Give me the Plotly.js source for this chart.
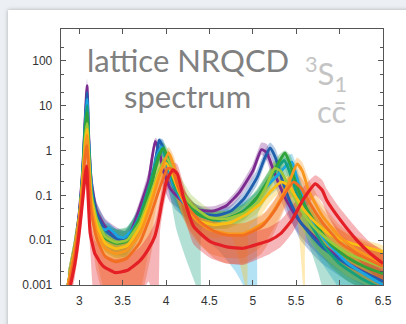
<!DOCTYPE html>
<html>
<head>
<meta charset="utf-8">
<script src="https://cdn.plot.ly/plotly-3.0.1.min.js"></script>
<style>
html,body{margin:0;padding:0;width:406px;height:324px;overflow:hidden;background:#eceff3;}
#card{position:absolute;left:8px;top:10px;width:420px;height:330px;background:#fff;box-shadow:0 0 4px rgba(0,0,0,0.28);}
#plot{position:absolute;left:0;top:0;width:406px;height:324px;}
</style>
</head>
<body>
<div id="card"></div>
<div id="plot"></div>
<script>
// ---- data ----
const xTicks = [3, 3.5, 4, 4.5, 5, 5.5, 6, 6.5];
const xTickText = ["3", "3.5", "4", "4.5", "5", "5.5", "6", "6.5"];
const yTicks = [0.001, 0.01, 0.1, 1, 10, 100];
const yTickText = ["0.001", "0.01", "0.1", "1", "10", "100"];

const xPurple = [2.88,2.95,3.0,3.04,3.07,3.09,3.11,3.14,3.2,3.3,3.42,3.53,3.62,3.7,3.8,3.875,3.92,3.97,4.05,4.2,4.4,4.55,4.7,4.85,5.0,5.1,5.16,5.22,5.3,5.4,5.55,5.8,6.1,6.5];
const yPurple = [0.001,0.006,0.04,0.4,6,28,2,0.2,0.045,0.02,0.013,0.01,0.02,0.056,0.22,1.6,1.0,0.35,0.14,0.07,0.046,0.045,0.06,0.12,0.35,1.05,0.9,0.45,0.18,0.07,0.025,0.008,0.003,0.0012];
const loPurple = [0.0005,0.003,0.02,0.2,3,15,1,0.1,0.025,0.01,0.007,0.005,0.01,0.03,0.12,1.2,0.6,0.15,0.07,0.045,0.035,0.035,0.045,0.09,0.25,0.8,0.6,0.25,0.1,0.035,0.012,0.004,0.0015,0.0006];
const hiPurple = [0.002,0.012,0.08,0.8,12,40,4,0.4,0.07,0.03,0.02,0.016,0.03,0.08,0.35,1.9,1.6,0.6,0.2,0.09,0.058,0.057,0.075,0.16,0.5,1.5,1.4,0.7,0.28,0.11,0.04,0.013,0.005,0.002];

const xBlue = [2.88,2.95,3.0,3.04,3.07,3.09,3.11,3.14,3.2,3.3,3.42,3.53,3.65,3.75,3.85,3.92,3.97,4.03,4.1,4.25,4.45,4.6,4.75,4.9,5.05,5.14,5.2,5.26,5.33,5.42,5.55,5.8,6.1,6.5];
const yBlue = [0.001,0.006,0.035,0.35,5,20,1.6,0.17,0.04,0.017,0.011,0.01,0.018,0.05,0.25,1.7,1.1,0.35,0.14,0.06,0.038,0.036,0.045,0.085,0.25,0.7,1.15,0.7,0.25,0.08,0.025,0.007,0.0028,0.0012];
const loBlue = [0.0005,0.003,0.018,0.18,2.5,12,0.8,0.08,0.02,0.008,0.005,0.004,0.008,0.025,0.12,1.2,0.6,0.12,0.05,0.03,0.025,0.025,0.032,0.06,0.17,0.5,0.8,0.4,0.12,0.035,0.01,0.003,0.0012,0.0005];
const hiBlue = [0.002,0.012,0.07,0.7,10,30,3,0.35,0.07,0.028,0.018,0.016,0.03,0.08,0.4,1.9,1.7,0.6,0.22,0.085,0.05,0.048,0.06,0.12,0.38,1.0,1.5,1.1,0.45,0.15,0.05,0.013,0.005,0.002];

const xCyan = [2.87,2.93,3.0,3.04,3.07,3.09,3.11,3.14,3.17,3.24,3.3,3.34,3.38,3.45,3.52,3.62,3.72,3.82,3.9,3.95,4.0,4.08,4.2,4.4,4.6,4.8,4.95,5.04,5.06,5.15,5.3,5.38,5.45,5.52,5.6,5.8,6.1,6.5];
const yCyan = [0.001,0.004,0.03,0.3,4,14,1.5,0.15,0.04,0.019,0.017,0.0185,0.016,0.012,0.0115,0.018,0.045,0.18,0.8,1.2,0.6,0.18,0.07,0.035,0.028,0.035,0.055,0.08,0.085,0.15,0.3,0.45,0.55,0.2,0.06,0.012,0.003,0.001];
const loCyan = [0.0005,0.002,0.015,0.15,2,8,0.8,0.08,0.025,0.014,0.013,0.014,0.012,0.009,0.008,0.01,0.025,0.1,0.5,0.8,0.3,0.08,0.03,0.012,0.006,0.002,0.0006,0.0003,0.04,0.08,0.15,0.25,0.3,0.08,0.02,0.003,0.0005,0.0003];
const hiCyan = [0.002,0.008,0.06,0.6,8,22,3,0.3,0.06,0.025,0.022,0.024,0.021,0.016,0.016,0.03,0.07,0.3,1.2,1.8,1.0,0.3,0.11,0.05,0.045,0.055,0.085,0.12,0.13,0.25,0.5,0.7,0.85,0.35,0.12,0.025,0.006,0.002];

const xTeal = [2.87,2.94,3.0,3.04,3.07,3.09,3.11,3.14,3.2,3.3,3.42,3.55,3.7,3.82,3.9,3.96,4.02,4.12,4.25,4.35,4.4,4.42,4.55,4.7,4.9,5.05,5.2,5.3,5.36,5.42,5.5,5.6,5.75,5.86,6.0,6.25,6.5];
const yTeal = [0.001,0.005,0.03,0.3,4,10,1.2,0.12,0.03,0.012,0.009,0.01,0.035,0.2,0.7,1.1,0.5,0.13,0.06,0.04,0.035,0.034,0.028,0.03,0.045,0.09,0.25,0.45,0.6,0.35,0.12,0.04,0.012,0.006,0.003,0.0014,0.0008];
const loTeal = [0.0005,0.0025,0.015,0.15,2,5,0.6,0.06,0.015,0.006,0.0045,0.005,0.018,0.1,0.4,0.7,0.2,0.017,0.003,0.0009,0.0004,0.02,0.018,0.02,0.03,0.06,0.16,0.3,0.4,0.2,0.06,0.015,0.002,0.0004,0.0003,0.0003,0.0003];
const hiTeal = [0.002,0.01,0.06,0.6,8,16,2.4,0.24,0.06,0.024,0.018,0.02,0.06,0.35,1.1,1.5,0.9,0.25,0.1,0.06,0.05,0.05,0.04,0.045,0.065,0.13,0.38,0.65,0.9,0.6,0.22,0.08,0.025,0.012,0.006,0.003,0.0016];

const xGreen = [2.87,2.94,3.0,3.04,3.07,3.09,3.11,3.14,3.2,3.3,3.42,3.55,3.7,3.82,3.92,3.97,4.03,4.1,4.2,4.35,4.5,4.7,4.9,5.05,5.2,5.3,5.37,5.43,5.5,5.6,5.75,5.9,6.1,6.3,6.5];
const yGreen = [0.001,0.005,0.03,0.28,3,7,1,0.1,0.025,0.011,0.0085,0.0095,0.03,0.15,0.75,1.15,0.6,0.2,0.08,0.04,0.03,0.03,0.045,0.09,0.25,0.55,0.88,0.5,0.18,0.06,0.02,0.008,0.004,0.0025,0.0018];
const loGreen = [0.0005,0.0025,0.015,0.14,1.5,4,0.5,0.05,0.012,0.0055,0.004,0.0045,0.015,0.08,0.45,0.8,0.3,0.08,0.035,0.022,0.018,0.018,0.028,0.055,0.15,0.35,0.6,0.25,0.07,0.02,0.006,0.0025,0.0012,0.0008,0.0006];
const hiGreen = [0.002,0.01,0.06,0.55,6,10,2,0.2,0.05,0.022,0.017,0.019,0.05,0.26,1.1,1.5,1.0,0.35,0.13,0.06,0.045,0.045,0.068,0.14,0.4,0.8,1.0,0.8,0.35,0.12,0.04,0.016,0.008,0.005,0.0035];

const xLime = [2.87,2.94,3.0,3.04,3.07,3.09,3.11,3.14,3.2,3.3,3.42,3.55,3.7,3.82,3.92,4.0,4.06,4.15,4.3,4.5,4.7,4.9,5.05,5.15,5.25,5.32,5.42,5.55,5.7,5.9,6.1,6.3,6.5];
const yLime = [0.001,0.005,0.03,0.25,2,4,0.8,0.1,0.03,0.012,0.009,0.01,0.025,0.1,0.35,0.7,0.45,0.15,0.06,0.032,0.03,0.04,0.07,0.15,0.4,0.35,0.15,0.05,0.02,0.009,0.005,0.0035,0.0025];
const loLime = [0.0005,0.0025,0.015,0.12,1,2.5,0.4,0.05,0.012,0.0055,0.004,0.0045,0.012,0.05,0.2,0.45,0.25,0.07,0.03,0.02,0.018,0.025,0.04,0.08,0.2,0.15,0.06,0.02,0.007,0.003,0.0015,0.001,0.0007];
const hiLime = [0.002,0.01,0.06,0.5,4,7,1.6,0.2,0.06,0.013,0.0105,0.011,0.04,0.18,0.6,1.0,0.8,0.3,0.1,0.05,0.045,0.06,0.11,0.25,0.6,0.6,0.3,0.1,0.04,0.018,0.01,0.007,0.005];

const xYellow = [2.87,2.94,3.0,3.04,3.07,3.09,3.11,3.14,3.2,3.3,3.42,3.55,3.7,3.82,3.92,4.0,4.07,4.15,4.25,4.36,4.55,4.75,4.93,4.96,5.09,5.2,5.33,5.42,5.5,5.58,5.6,5.62,5.75,5.9,6.1,6.3,6.5];
const yYellow = [0.001,0.005,0.03,0.22,1.5,3,0.6,0.08,0.022,0.0085,0.0065,0.0075,0.02,0.08,0.3,0.53,0.3,0.12,0.05,0.028,0.022,0.025,0.038,0.042,0.066,0.12,0.2,0.16,0.09,0.05,0.045,0.04,0.022,0.013,0.009,0.007,0.0055];
const loYellow = [0.0005,0.0025,0.015,0.11,0.8,1.8,0.3,0.04,0.011,0.004,0.003,0.0035,0.01,0.04,0.15,0.3,0.15,0.06,0.025,0.014,0.011,0.012,0.0008,0.02,0.035,0.07,0.12,0.09,0.045,0.001,0.0004,0.02,0.01,0.006,0.004,0.003,0.0025];
const hiYellow = [0.002,0.01,0.06,0.45,3,5,1.2,0.16,0.044,0.014,0.011,0.012,0.035,0.14,0.5,0.8,0.5,0.2,0.08,0.042,0.035,0.038,0.055,0.06,0.1,0.18,0.3,0.25,0.15,0.08,0.075,0.07,0.038,0.022,0.014,0.01,0.0075];

const xOrange = [2.87,2.94,3.0,3.04,3.07,3.09,3.11,3.14,3.2,3.3,3.42,3.55,3.7,3.82,3.93,4.03,4.09,4.16,4.25,4.38,4.51,4.7,4.89,5.05,5.16,5.3,5.42,5.51,5.57,5.65,5.8,6.0,6.2,6.5];
const yOrange = [0.001,0.005,0.03,0.2,1.2,2.2,0.45,0.06,0.016,0.0065,0.005,0.006,0.014,0.06,0.3,0.9,0.45,0.12,0.05,0.025,0.017,0.014,0.014,0.02,0.028,0.07,0.2,0.5,0.35,0.12,0.035,0.012,0.006,0.003];
const loOrange = [0.0005,0.0025,0.015,0.1,0.6,1.2,0.2,0.025,0.004,0.0007,0.0005,0.0005,0.0008,0.01,0.15,0.55,0.2,0.05,0.018,0.008,0.005,0.004,0.004,0.006,0.01,0.03,0.1,0.3,0.18,0.05,0.012,0.004,0.002,0.0012];
const hiOrange = [0.002,0.01,0.06,0.4,2.4,3.5,0.9,0.12,0.03,0.011,0.0085,0.01,0.025,0.1,0.5,1.2,0.75,0.22,0.085,0.04,0.028,0.023,0.024,0.033,0.045,0.11,0.3,0.7,0.55,0.22,0.065,0.022,0.011,0.006];

const xDarkOrange = [2.88,2.95,3.0,3.04,3.07,3.09,3.11,3.14,3.2,3.3,3.42,3.55,3.7,3.82,3.93,4.02,4.07,4.14,4.25,4.4,4.55,4.7,4.9,5.1,5.25,5.37,5.47,5.55,5.65,5.8,6.0,6.2,6.5];
const yDarkOrange = [0.001,0.005,0.025,0.15,0.8,1.3,0.3,0.04,0.011,0.0043,0.0033,0.004,0.009,0.035,0.15,0.4,0.38,0.15,0.055,0.025,0.016,0.013,0.013,0.02,0.045,0.11,0.2,0.15,0.07,0.025,0.009,0.005,0.0026];
const loDarkOrange = [0.0005,0.0025,0.012,0.07,0.4,0.7,0.12,0.015,0.002,0.0005,0.0004,0.0004,0.0005,0.004,0.05,0.2,0.2,0.06,0.02,0.008,0.004,0.003,0.003,0.005,0.015,0.05,0.1,0.07,0.03,0.01,0.003,0.0015,0.0008];
const hiDarkOrange = [0.002,0.01,0.05,0.3,1.6,2.2,0.6,0.08,0.022,0.0085,0.0065,0.0075,0.017,0.06,0.25,0.6,0.6,0.26,0.1,0.045,0.028,0.023,0.024,0.035,0.08,0.2,0.32,0.26,0.13,0.05,0.018,0.01,0.005];

const xRed = [2.9,2.95,3.0,3.04,3.07,3.085,3.1,3.127,3.18,3.2,3.24,3.28,3.41,3.55,3.7,3.8,3.87,3.9,3.93,3.95,4.01,4.08,4.13,4.2,4.32,4.51,4.7,4.89,5.09,5.2,5.32,5.45,5.58,5.72,5.8,5.85,6.01,6.2,6.35,6.5];
const yRed = [0.001,0.003,0.015,0.08,0.3,0.45,0.12,0.014,0.005,0.0043,0.0032,0.0026,0.0019,0.0021,0.0035,0.0065,0.012,0.02,0.04,0.066,0.22,0.37,0.3,0.093,0.02,0.0093,0.0071,0.0066,0.0085,0.01,0.014,0.028,0.08,0.18,0.13,0.079,0.028,0.0099,0.0051,0.003];
const loRed = [0.0005,0.0015,0.007,0.04,0.15,0.25,0.05,0.006,0.0003,0.0003,0.0003,0.0006,0.0005,0.0005,0.0006,0.0012,0.0003,0.0003,0.015,0.03,0.12,0.22,0.15,0.04,0.008,0.004,0.003,0.0028,0.004,0.005,0.007,0.014,0.04,0.1,0.07,0.04,0.012,0.004,0.002,0.0012];
const hiRed = [0.002,0.006,0.03,0.16,0.6,0.8,0.25,0.03,0.01,0.009,0.0065,0.005,0.0038,0.0042,0.007,0.013,0.024,0.04,0.08,0.13,0.4,0.55,0.5,0.18,0.04,0.018,0.014,0.013,0.017,0.02,0.028,0.055,0.15,0.28,0.22,0.14,0.05,0.018,0.009,0.0055];

const series = [
  {x: xPurple, y: yPurple, lo: loPurple, hi: hiPurple, color: '#7b2a8f', rgb: '123,42,143'},
  {x: xBlue, y: yBlue, lo: loBlue, hi: hiBlue, color: '#1f5fad', rgb: '31,95,173'},
  {x: xCyan, y: yCyan, lo: loCyan, hi: hiCyan, color: '#1aa6e0', rgb: '26,166,224'},
  {x: xTeal, y: yTeal, lo: loTeal, hi: hiTeal, color: '#14a07c', rgb: '20,160,124'},
  {x: xGreen, y: yGreen, lo: loGreen, hi: hiGreen, color: '#2fa33a', rgb: '47,163,58'},
  {x: xLime, y: yLime, lo: loLime, hi: hiLime, color: '#9cc83c', rgb: '156,200,60'},
  {x: xYellow, y: yYellow, lo: loYellow, hi: hiYellow, color: '#fbbf14', rgb: '251,191,20'},
  {x: xOrange, y: yOrange, lo: loOrange, hi: hiOrange, color: '#f9961d', rgb: '249,150,29'},
  {x: xDarkOrange, y: yDarkOrange, lo: loDarkOrange, hi: hiDarkOrange, color: '#f26f22', rgb: '242,111,34'},
  {x: xRed, y: yRed, lo: loRed, hi: hiRed, color: '#e51f26', rgb: '229,31,38'}
];

const traces = [];
series.forEach(s => {
  traces.push({
    type: 'scatter', mode: 'lines',
    x: s.x.concat(s.x.slice().reverse()),
    y: s.hi.concat(s.lo.slice().reverse()),
    fill: 'toself', fillcolor: 'rgba(' + s.rgb + ',0.33)',
    line: {width: 0, color: 'rgba(0,0,0,0)', shape: 'spline', smoothing: 0.5},
    hoverinfo: 'skip'
  });
});
series.forEach((s, i) => {
  traces.push({
    type: 'scatter', mode: 'lines', x: s.x, y: s.y,
    line: {color: s.color, width: i === series.length - 1 ? 3.2 : 2.8, shape: 'spline', smoothing: 0.5}
  });
});

const tickFont = {family: 'Liberation Sans, Arial, sans-serif', size: 12, color: '#333'};
const layout = {
  width: 406, height: 324,
  margin: {l: 61, r: 23, t: 29, b: 39},
  paper_bgcolor: 'rgba(0,0,0,0)', plot_bgcolor: '#ffffff',
  showlegend: false,
  xaxis: {
    range: [2.79, 6.5], tickvals: xTicks, ticktext: xTickText,
    ticks: 'inside', ticklen: 5, tickcolor: '#555', tickwidth: 1,
    showline: true, linecolor: '#555', linewidth: 1.3, mirror: 'ticks',
    showgrid: false, zeroline: false, tickfont: tickFont, ticklabelstandoff: 4
  },
  yaxis: {
    type: 'log', range: [-3, 2.71], tickvals: yTicks, ticktext: yTickText,
    ticks: 'inside', ticklen: 5, tickcolor: '#555', tickwidth: 1,
    showline: true, linecolor: '#555', linewidth: 1.3, mirror: 'ticks',
    showgrid: false, zeroline: false, tickfont: tickFont, ticklabelstandoff: 5,
    minor: {ticks: 'inside', ticklen: 3, tickcolor: '#555', dtick: 'D2', showgrid: false}
  },
  annotations: [
    {text: 'lattice NRQCD', xref: 'paper', yref: 'paper', x: 0.394, y: 0.878, xanchor: 'center', yanchor: 'middle', showarrow: false,
     font: {family: 'Lato, sans-serif', size: 31, color: '#808080'}},
    {text: 'spectrum', xref: 'paper', yref: 'paper', x: 0.394, y: 0.74, xanchor: 'center', yanchor: 'middle', showarrow: false,
     font: {family: 'Lato, sans-serif', size: 31, color: '#808080'}},
    {text: '<sup>3</sup>S<sub>1</sub>', xref: 'paper', yref: 'paper', x: 0.8245, y: 0.826, xanchor: 'center', yanchor: 'middle', showarrow: false,
     font: {family: 'Lato, sans-serif', size: 31, color: '#c4c4c4'}},
    {text: 'cc\u0304', xref: 'paper', yref: 'paper', x: 0.843, y: 0.68, xanchor: 'center', yanchor: 'middle', showarrow: false,
     font: {family: 'Lato, sans-serif', size: 31, color: '#c4c4c4'}}
  ]
};

Plotly.newPlot('plot', traces, layout, {staticPlot: true, displayModeBar: false});
</script>
</body>
</html>
